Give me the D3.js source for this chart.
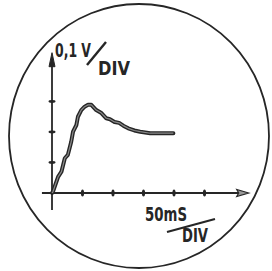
<!DOCTYPE html>
<html>
<head>
<meta charset="utf-8">
<script src="https://cdn.jsdelivr.net/npm/d3@7"></script>
<style>
  body { margin: 0; background: #fff; }
  text { font-family: "DejaVu Sans Condensed", "DejaVu Sans", sans-serif; fill: #262626; font-weight: bold; }
</style>
</head>
<body>
<div id="vis"></div>
<script>
// divisions on the scope screen
var xTicks = [1, 2, 3, 4, 5];
var yTicks = [1, 2, 3];
var timeDiv = [0, 0.03, 0.2, 0.31, 0.42, 0.52, 0.63, 0.69, 0.8, 0.85, 0.96, 1.07, 1.18, 1.29, 1.45, 1.62, 1.78, 1.9, 2.05, 2.2, 2.35, 2.5, 2.7, 2.89, 3.22, 3.6, 3.98];
var voltDiv = [0, 0.04, 0.53, 0.7, 1.14, 1.25, 1.68, 2.01, 2.23, 2.5, 2.72, 2.83, 2.89, 2.89, 2.72, 2.62, 2.45, 2.42, 2.33, 2.3, 2.2, 2.12, 2.05, 2.01, 1.96, 1.96, 1.96];
var yLabel = ['0,1 V', 'DIV'];
var xLabel = ['50mS', 'DIV'];

var width = 272, height = 271;
var ink = '#262626';

var svg = d3.select('#vis').append('svg')
    .attr('width', width)
    .attr('height', height);

// screen outline
svg.append('ellipse')
    .attr('cx', 139).attr('cy', 136)
    .attr('rx', 130).attr('ry', 132)
    .attr('fill', 'none')
    .attr('stroke', ink)
    .attr('stroke-width', 1.8);

var xScale = d3.scaleLinear().domain([0, 6]).range([52, 235]);
var yScale = d3.scaleLinear().domain([0, 4.5]).range([193, 55.75]);

var g = svg.append('g');

// axes
g.append('line')
    .attr('x1', xScale(-0.33)).attr('x2', xScale(6.1))
    .attr('y1', yScale(0)).attr('y2', yScale(0))
    .attr('stroke', ink).attr('stroke-width', 1.8);
g.append('line')
    .attr('x1', xScale(0)).attr('x2', xScale(0))
    .attr('y1', yScale(-0.56)).attr('y2', yScale(4.2))
    .attr('stroke', ink).attr('stroke-width', 1.8);

// arrow heads
var xa = xScale(6.45), ya = yScale(0);
g.append('path')
    .attr('d', 'M' + xa + ',' + ya + ' L' + (xa - 12) + ',' + (ya - 3.5) + ' L' + (xa - 10) + ',' + ya + ' L' + (xa - 12) + ',' + (ya + 3.5) + 'Z')
    .attr('fill', '#999').attr('stroke', ink).attr('stroke-width', 1.2);
var xb = xScale(0), yb = yScale(4.6);
g.append('path')
    .attr('d', 'M' + xb + ',' + yb + ' L' + (xb - 3) + ',' + (yb + 14) + ' L' + (xb + 3) + ',' + (yb + 14) + 'Z')
    .attr('fill', ink).attr('stroke', ink).attr('stroke-width', 1);

// tick marks
g.selectAll('.xtick').data(xTicks).enter().append('ellipse')
    .attr('class', 'xtick')
    .attr('cx', function(d) { return xScale(d); })
    .attr('cy', yScale(0))
    .attr('rx', 1.6).attr('ry', 3.5)
    .attr('fill', ink);
g.selectAll('.ytick').data(yTicks).enter().append('ellipse')
    .attr('class', 'ytick')
    .attr('cx', xScale(0))
    .attr('cy', function(d) { return yScale(d); })
    .attr('rx', 3.5).attr('ry', 1.4)
    .attr('fill', ink);

// trace
var pts = timeDiv.map(function(t, i) { return [t, voltDiv[i]]; });
var line = d3.line()
    .x(function(d) { return xScale(d[0]); })
    .y(function(d) { return yScale(d[1]); })
    .curve(d3.curveLinear);
g.append('path')
    .datum(pts)
    .attr('d', line)
    .attr('fill', 'none')
    .attr('stroke', ink)
    .attr('stroke-width', 4)
    .attr('stroke-linejoin', 'round')
    .attr('stroke-linecap', 'round');
g.append('path')
    .datum(pts)
    .attr('d', line)
    .attr('fill', 'none')
    .attr('stroke', '#8a8a8a')
    .attr('stroke-width', 1.2)
    .attr('stroke-linejoin', 'round');

// labels
svg.append('text').attr('x', 55).attr('y', 57)
    .style('font-size', '19px')
    .attr('textLength', 36).attr('lengthAdjust', 'spacingAndGlyphs')
    .text(yLabel[0]);
svg.append('line').attr('x1', 87).attr('y1', 65).attr('x2', 106).attr('y2', 42)
    .attr('stroke', ink).attr('stroke-width', 2.4);
svg.append('text').attr('x', 98).attr('y', 75)
    .style('font-size', '20px')
    .attr('textLength', 32).attr('lengthAdjust', 'spacingAndGlyphs')
    .text(yLabel[1]);

svg.append('text').attr('x', 145).attr('y', 221)
    .style('font-size', '19px')
    .attr('textLength', 42).attr('lengthAdjust', 'spacingAndGlyphs')
    .text(xLabel[0]);
svg.append('line').attr('x1', 167).attr('y1', 232).attr('x2', 215).attr('y2', 219)
    .attr('stroke', ink).attr('stroke-width', 2.2);
svg.append('text').attr('x', 182).attr('y', 242)
    .style('font-size', '20px')
    .attr('textLength', 26).attr('lengthAdjust', 'spacingAndGlyphs')
    .text(xLabel[1]);
</script>
</body>
</html>
